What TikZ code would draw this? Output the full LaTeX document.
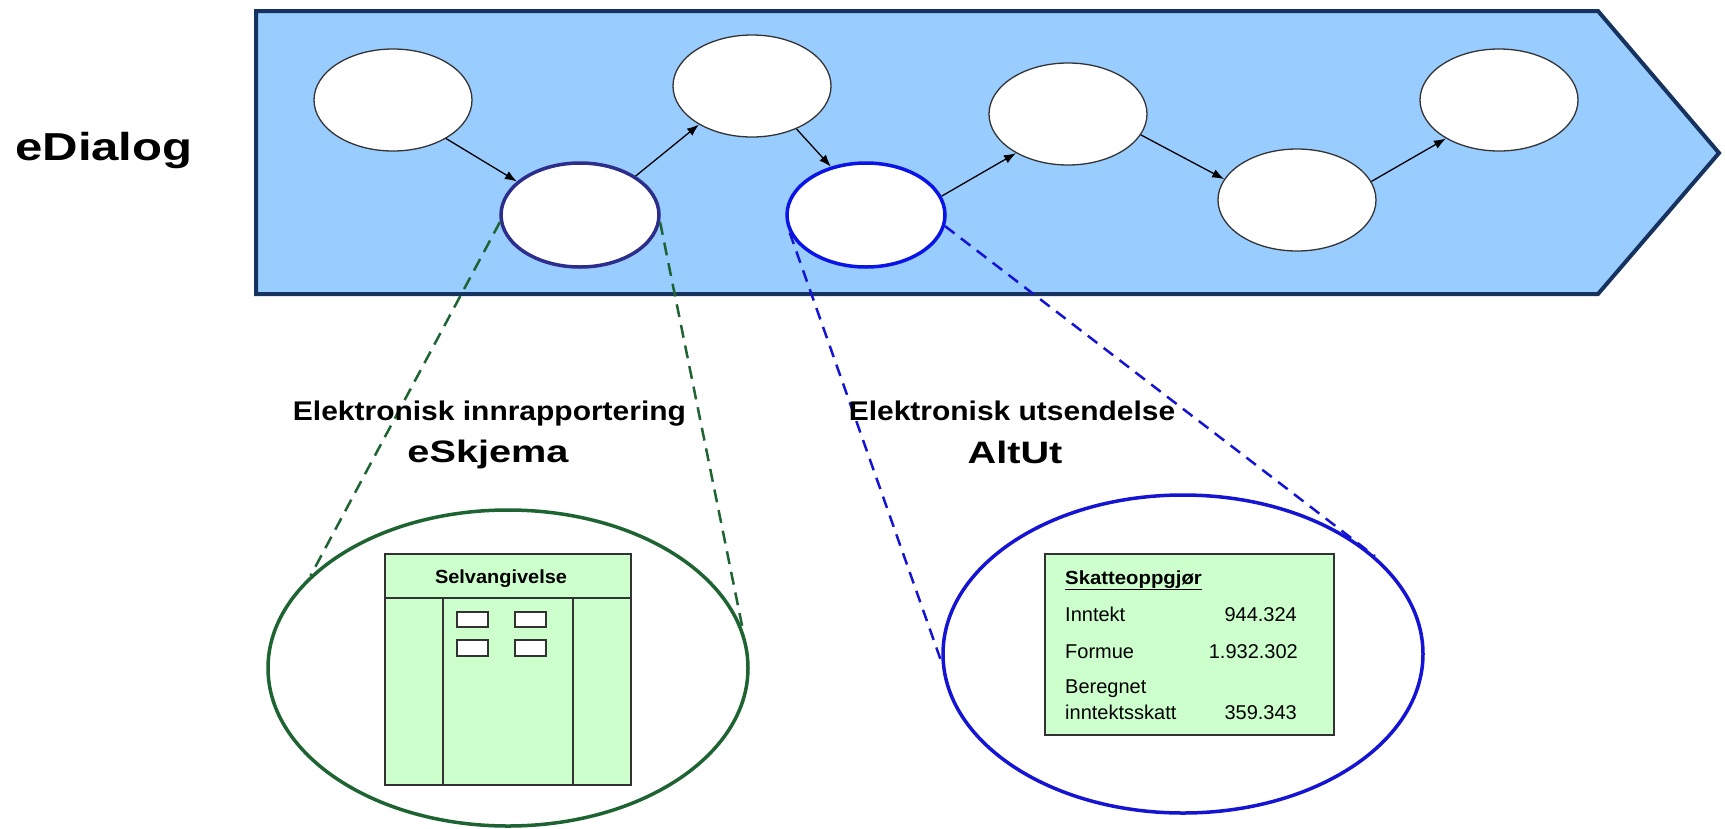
\documentclass[tikz,border=0pt]{standalone}
\usepackage{fontspec}
\setmainfont{Liberation Sans}
\usetikzlibrary{shapes.geometric,arrows.meta}
\definecolor{bandfill}{RGB}{153,204,255}
\definecolor{bandline}{RGB}{22,50,94}
\definecolor{etwoline}{RGB}{45,45,140}
\definecolor{efourline}{RGB}{10,20,230}
\definecolor{greenline}{RGB}{30,100,50}
\definecolor{blueline}{RGB}{20,20,210}
\definecolor{formfill}{RGB}{204,255,204}
\definecolor{boxline}{RGB}{50,50,50}
\begin{document}
\begin{tikzpicture}[x=1pt,y=-1pt,
  stage/.style={ellipse, draw=black!80, line width=1.3pt, fill=white, minimum width=158pt, minimum height=102pt, inner sep=0pt},
  flow/.style={-{Latex[length=12pt,width=9pt]}, line width=1.3pt, black},
  gdash/.style={draw=greenline, line width=2.5pt, dash pattern=on 13pt off 8pt},
  bdash/.style={draw=blueline, line width=2.5pt, dash pattern=on 12pt off 8pt},
  zoomell/.style={ellipse, line width=3.5pt, fill=white, minimum width=480pt, minimum height=316pt, inner sep=0pt},
  panel/.style={draw=boxline, line width=1.5pt, fill=formfill, inner sep=0pt},
  lbl/.style={font=\fontsize{27}{30}\selectfont\bfseries, inner sep=0pt},
  big/.style={font=\fontsize{31}{34}\selectfont\bfseries, inner sep=0pt},
  small/.style={font=\fontsize{20}{22}\selectfont, inner sep=0pt},
  smallb/.style={font=\fontsize{19}{22}\selectfont\bfseries, inner sep=0pt}
]
\useasboundingbox (0,0) rectangle (1725,828);

% band
\draw[fill=bandfill, draw=bandline, line width=4pt, line join=miter]
  (256,11) -- (1598,11) -- (1719,153) -- (1598,294) -- (256,294) -- cycle;

\node[anchor=base west, font=\fontsize{39}{42}\selectfont\bfseries, inner sep=0pt] (title) at (15,160) {\scalebox{1.26}[1]{eDialog}};

% stages
\node[stage] (e1) at (393,100) {};
\node[stage, draw=etwoline, line width=3.5pt, minimum height=104pt] (e2) at (580,215) {};
\node[stage] (e3) at (752,86) {};
\node[stage, draw=efourline, line width=3.5pt, minimum height=104pt] (e4) at (866,215) {};
\node[stage] (e5) at (1068,114) {};
\node[stage] (e6) at (1297,200) {};
\node[stage] (e7) at (1499,100) {};

\draw[flow] (e1.-36.7) -- (e2.152.4);
\draw[flow] (e2.35) -- (e3.216.2);
\draw[flow] (e3.-44.2) -- (e4.126.5);
\draw[flow] (e4.14.4) -- (e5.217.2);
\draw[flow] (e5.-16.3) -- (e6.164.5);
\draw[flow] (e6.14.2) -- (e7.216);

% zoom ellipses
\node[zoomell, draw=greenline] (g) at (508,668) {};
\node[zoomell, draw=blueline, minimum height=318pt] (b) at (1183,654) {};

% dashed connectors
\draw[gdash] (e2.185) -- (g.155.3);
\draw[gdash] (e2.-5) -- (g.9.7);
\draw[bdash] (e4.193.5) -- (b.182);
\draw[bdash] (e4.-8.3) -- (b.27.5);

% labels
\node[lbl, anchor=base] (l1) at (489.5,420) {\scalebox{1.11}[1]{Elektronisk innrapportering}};
\node[big, anchor=base] (l2) at (488,462) {\scalebox{1.28}[1]{eSkjema}};
\node[lbl, anchor=base] (l3) at (1012,420) {\scalebox{1.11}[1]{Elektronisk utsendelse}};
\node[big, anchor=base] (l4) at (1015,463) {\scalebox{1.28}[1]{AltUt}};

% form
\node[panel, minimum width=246pt, minimum height=231pt] (form) at (508,669.5) {};
\draw[boxline, line width=1.5pt] (385,598) -- (631,598);
\draw[boxline, line width=1.5pt] (443,598) -- (443,785);
\draw[boxline, line width=1.5pt] (573,598) -- (573,785);
\node[smallb, anchor=base] (selv) at (501,583) {\scalebox{1.05}[1]{Selvangivelse}};
\draw[boxline, line width=1.5pt, fill=white] (457,612) rectangle (488,627);
\draw[boxline, line width=1.5pt, fill=white] (515,612) rectangle (546,627);
\draw[boxline, line width=1.5pt, fill=white] (457,640) rectangle (488,656);
\draw[boxline, line width=1.5pt, fill=white] (515,640) rectangle (546,656);

% result
\node[panel, minimum width=289pt, minimum height=181pt] (res) at (1189.5,644.5) {};
\node[smallb, anchor=base west] (rt) at (1065,584) {\scalebox{1.07}[1]{\underline{Skatteoppgjør}}};
\node[small, anchor=base west] (r1) at (1065,621) {Inntekt};
\node[small, anchor=base east] (v1) at (1297,621) {944.324};
\node[small, anchor=base west] (r2) at (1065,658) {Formue};
\node[small, anchor=base east] (v2) at (1298,658) {1.932.302};
\node[small, anchor=base west] (r3) at (1065,693) {Beregnet};
\node[small, anchor=base west] (r4) at (1065,719) {inntektsskatt};
\node[small, anchor=base east] (v3) at (1297,719) {359.343};
\end{tikzpicture}
\end{document}
